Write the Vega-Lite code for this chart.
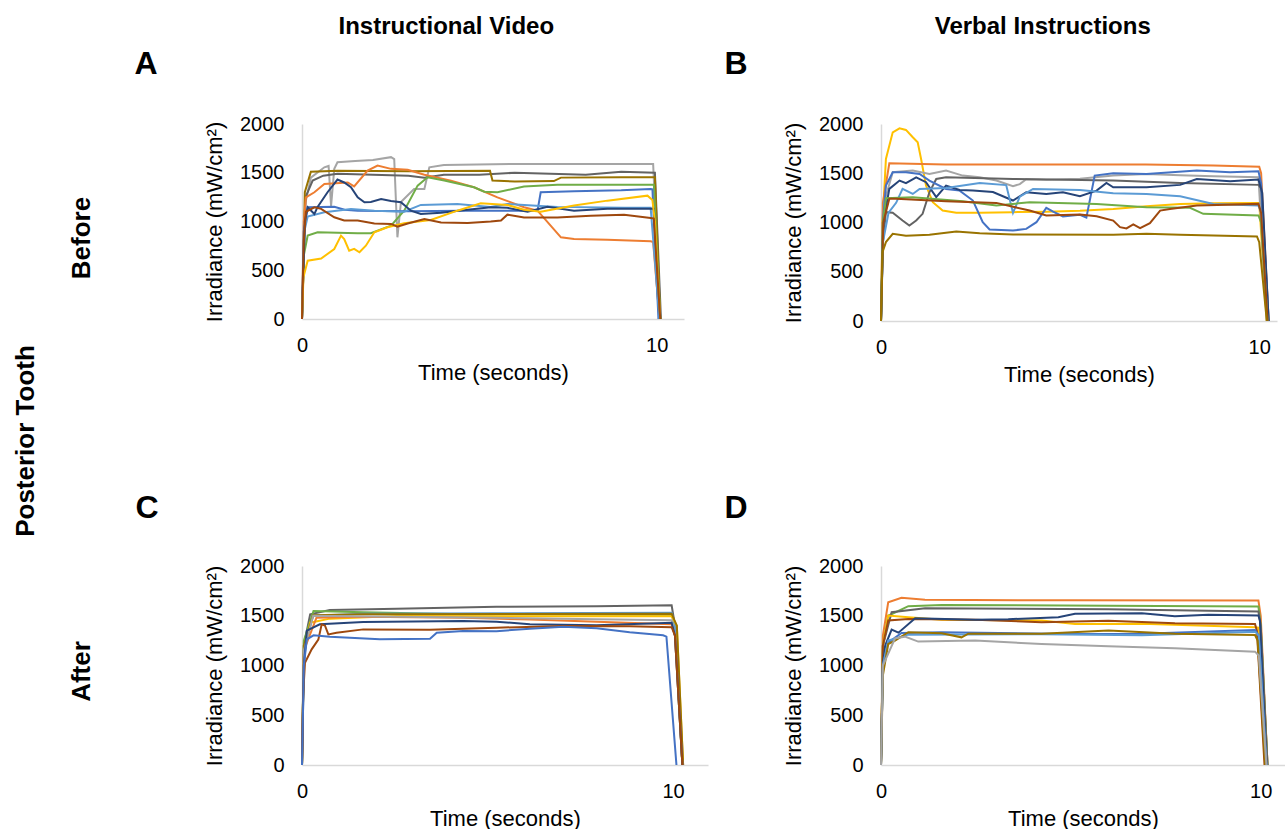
{
"$schema": "https://vega.github.io/schema/vega-lite/v6.json",
"background": "white",
"padding": {"left": 12, "top": 15, "right": 0, "bottom": 0},
"title": {"text": "Posterior Tooth", "orient": "left", "anchor": "middle", "fontSize": 26, "offset": 30, "dx": -19},
"data": {"values": [
{"p":"A","s":"g","t":0,"v":0},{"p":"A","s":"g","t":0.1,"v":1200},{"p":"A","s":"g","t":0.25,"v":1450},{"p":"A","s":"g","t":0.63,"v":1556},{"p":"A","s":"g","t":0.75,"v":1570},{"p":"A","s":"g","t":0.82,"v":1160},{"p":"A","s":"g","t":0.91,"v":1540},{"p":"A","s":"g","t":1.0,"v":1607},{"p":"A","s":"g","t":1.5,"v":1620},{"p":"A","s":"g","t":2.0,"v":1630},{"p":"A","s":"g","t":2.51,"v":1660},{"p":"A","s":"g","t":2.6,"v":1640},{"p":"A","s":"g","t":2.69,"v":838},{"p":"A","s":"g","t":2.79,"v":1200},{"p":"A","s":"g","t":3.16,"v":1334},{"p":"A","s":"g","t":3.45,"v":1334},{"p":"A","s":"g","t":3.59,"v":1556},{"p":"A","s":"g","t":4.0,"v":1580},{"p":"A","s":"g","t":6.0,"v":1590},{"p":"A","s":"g","t":8.0,"v":1590},{"p":"A","s":"g","t":9.9,"v":1590},{"p":"A","s":"g","t":10.1,"v":0},
{"p":"A","s":"dg","t":0,"v":0},{"p":"A","s":"dg","t":0.1,"v":1250},{"p":"A","s":"dg","t":0.3,"v":1420},{"p":"A","s":"dg","t":0.6,"v":1470},{"p":"A","s":"dg","t":1.0,"v":1490},{"p":"A","s":"dg","t":2.0,"v":1480},{"p":"A","s":"dg","t":3.0,"v":1470},{"p":"A","s":"dg","t":3.45,"v":1450},{"p":"A","s":"dg","t":4.0,"v":1480},{"p":"A","s":"dg","t":5.0,"v":1480},{"p":"A","s":"dg","t":6.0,"v":1500},{"p":"A","s":"dg","t":7.0,"v":1490},{"p":"A","s":"dg","t":8.0,"v":1480},{"p":"A","s":"dg","t":9.0,"v":1510},{"p":"A","s":"dg","t":9.95,"v":1500},{"p":"A","s":"dg","t":10.12,"v":0},
{"p":"A","s":"ol","t":0,"v":0},{"p":"A","s":"ol","t":0.08,"v":1300},{"p":"A","s":"ol","t":0.25,"v":1510},{"p":"A","s":"ol","t":1.0,"v":1520},{"p":"A","s":"ol","t":3.0,"v":1515},{"p":"A","s":"ol","t":5.3,"v":1520},{"p":"A","s":"ol","t":5.37,"v":1420},{"p":"A","s":"ol","t":6.0,"v":1410},{"p":"A","s":"ol","t":7.1,"v":1415},{"p":"A","s":"ol","t":7.3,"v":1450},{"p":"A","s":"ol","t":9.0,"v":1455},{"p":"A","s":"ol","t":9.95,"v":1455},{"p":"A","s":"ol","t":10.1,"v":0},
{"p":"A","s":"or","t":0,"v":0},{"p":"A","s":"or","t":0.05,"v":1000},{"p":"A","s":"or","t":0.11,"v":1248},{"p":"A","s":"or","t":0.35,"v":1300},{"p":"A","s":"or","t":0.63,"v":1385},{"p":"A","s":"or","t":1.29,"v":1400},{"p":"A","s":"or","t":1.47,"v":1360},{"p":"A","s":"or","t":1.85,"v":1522},{"p":"A","s":"or","t":2.13,"v":1573},{"p":"A","s":"or","t":2.51,"v":1540},{"p":"A","s":"or","t":2.98,"v":1530},{"p":"A","s":"or","t":3.45,"v":1480},{"p":"A","s":"or","t":4.2,"v":1419},{"p":"A","s":"or","t":4.85,"v":1351},{"p":"A","s":"or","t":5.51,"v":1248},{"p":"A","s":"or","t":6.26,"v":1146},{"p":"A","s":"or","t":6.64,"v":1111},{"p":"A","s":"or","t":7.01,"v":958},{"p":"A","s":"or","t":7.3,"v":838},{"p":"A","s":"or","t":7.67,"v":820},{"p":"A","s":"or","t":8.61,"v":814},{"p":"A","s":"or","t":9.83,"v":797},{"p":"A","s":"or","t":9.9,"v":790},{"p":"A","s":"or","t":10.08,"v":0},
{"p":"A","s":"gr","t":0,"v":0},{"p":"A","s":"gr","t":0.05,"v":650},{"p":"A","s":"gr","t":0.16,"v":855},{"p":"A","s":"gr","t":0.44,"v":889},{"p":"A","s":"gr","t":1.57,"v":879},{"p":"A","s":"gr","t":1.94,"v":880},{"p":"A","s":"gr","t":2.51,"v":958},{"p":"A","s":"gr","t":2.88,"v":1111},{"p":"A","s":"gr","t":3.26,"v":1368},{"p":"A","s":"gr","t":3.54,"v":1453},{"p":"A","s":"gr","t":4.01,"v":1420},{"p":"A","s":"gr","t":4.85,"v":1351},{"p":"A","s":"gr","t":5.14,"v":1306},{"p":"A","s":"gr","t":5.51,"v":1300},{"p":"A","s":"gr","t":6.26,"v":1358},{"p":"A","s":"gr","t":7.2,"v":1378},{"p":"A","s":"gr","t":9.92,"v":1378},{"p":"A","s":"gr","t":10.1,"v":0},
{"p":"A","s":"bl","t":0,"v":0},{"p":"A","s":"bl","t":0.05,"v":900},{"p":"A","s":"bl","t":0.16,"v":1146},{"p":"A","s":"bl","t":0.91,"v":1150},{"p":"A","s":"bl","t":1.2,"v":1120},{"p":"A","s":"bl","t":1.57,"v":1111},{"p":"A","s":"bl","t":3.0,"v":1105},{"p":"A","s":"bl","t":4.5,"v":1110},{"p":"A","s":"bl","t":6.64,"v":1111},{"p":"A","s":"bl","t":6.73,"v":1300},{"p":"A","s":"bl","t":7.67,"v":1310},{"p":"A","s":"bl","t":9.0,"v":1320},{"p":"A","s":"bl","t":9.83,"v":1334},{"p":"A","s":"bl","t":9.88,"v":1330},{"p":"A","s":"bl","t":10.05,"v":0},
{"p":"A","s":"lb","t":0,"v":0},{"p":"A","s":"lb","t":0.07,"v":906},{"p":"A","s":"lb","t":0.16,"v":1050},{"p":"A","s":"lb","t":0.63,"v":1094},{"p":"A","s":"lb","t":1.38,"v":1129},{"p":"A","s":"lb","t":2.04,"v":1110},{"p":"A","s":"lb","t":2.88,"v":1100},{"p":"A","s":"lb","t":3.35,"v":1170},{"p":"A","s":"lb","t":4.38,"v":1180},{"p":"A","s":"lb","t":5.32,"v":1150},{"p":"A","s":"lb","t":5.79,"v":1180},{"p":"A","s":"lb","t":6.73,"v":1160},{"p":"A","s":"lb","t":7.2,"v":1150},{"p":"A","s":"lb","t":9.08,"v":1140},{"p":"A","s":"lb","t":9.83,"v":1140},{"p":"A","s":"lb","t":10.08,"v":0},
{"p":"A","s":"db","t":0,"v":0},{"p":"A","s":"db","t":0.08,"v":1000},{"p":"A","s":"db","t":0.16,"v":1146},{"p":"A","s":"db","t":0.35,"v":1077},{"p":"A","s":"db","t":0.44,"v":1150},{"p":"A","s":"db","t":0.72,"v":1300},{"p":"A","s":"db","t":1.0,"v":1430},{"p":"A","s":"db","t":1.19,"v":1400},{"p":"A","s":"db","t":1.38,"v":1351},{"p":"A","s":"db","t":1.57,"v":1248},{"p":"A","s":"db","t":1.76,"v":1197},{"p":"A","s":"db","t":1.94,"v":1200},{"p":"A","s":"db","t":2.23,"v":1230},{"p":"A","s":"db","t":2.51,"v":1210},{"p":"A","s":"db","t":2.79,"v":1197},{"p":"A","s":"db","t":3.07,"v":1111},{"p":"A","s":"db","t":3.35,"v":1077},{"p":"A","s":"db","t":3.92,"v":1090},{"p":"A","s":"db","t":4.67,"v":1120},{"p":"A","s":"db","t":5.32,"v":1146},{"p":"A","s":"db","t":5.79,"v":1140},{"p":"A","s":"db","t":6.36,"v":1100},{"p":"A","s":"db","t":6.92,"v":1150},{"p":"A","s":"db","t":7.67,"v":1110},{"p":"A","s":"db","t":8.61,"v":1130},{"p":"A","s":"db","t":9.92,"v":1130},{"p":"A","s":"db","t":10.1,"v":0},
{"p":"A","s":"ye","t":0,"v":0},{"p":"A","s":"ye","t":0.04,"v":427},{"p":"A","s":"ye","t":0.16,"v":598},{"p":"A","s":"ye","t":0.54,"v":620},{"p":"A","s":"ye","t":0.91,"v":718},{"p":"A","s":"ye","t":1.1,"v":855},{"p":"A","s":"ye","t":1.19,"v":820},{"p":"A","s":"ye","t":1.33,"v":701},{"p":"A","s":"ye","t":1.47,"v":720},{"p":"A","s":"ye","t":1.62,"v":684},{"p":"A","s":"ye","t":1.8,"v":752},{"p":"A","s":"ye","t":2.04,"v":889},{"p":"A","s":"ye","t":2.41,"v":941},{"p":"A","s":"ye","t":2.88,"v":982},{"p":"A","s":"ye","t":3.63,"v":1016},{"p":"A","s":"ye","t":4.38,"v":1111},{"p":"A","s":"ye","t":5.04,"v":1187},{"p":"A","s":"ye","t":5.79,"v":1170},{"p":"A","s":"ye","t":6.26,"v":1120},{"p":"A","s":"ye","t":6.73,"v":1100},{"p":"A","s":"ye","t":7.67,"v":1163},{"p":"A","s":"ye","t":8.61,"v":1214},{"p":"A","s":"ye","t":9.74,"v":1265},{"p":"A","s":"ye","t":9.88,"v":1220},{"p":"A","s":"ye","t":9.95,"v":1000},{"p":"A","s":"ye","t":10.1,"v":0},
{"p":"A","s":"br","t":0,"v":0},{"p":"A","s":"br","t":0.05,"v":800},{"p":"A","s":"br","t":0.11,"v":1100},{"p":"A","s":"br","t":0.35,"v":1146},{"p":"A","s":"br","t":0.54,"v":1130},{"p":"A","s":"br","t":0.91,"v":1043},{"p":"A","s":"br","t":1.19,"v":1010},{"p":"A","s":"br","t":1.57,"v":1009},{"p":"A","s":"br","t":2.04,"v":980},{"p":"A","s":"br","t":2.51,"v":975},{"p":"A","s":"br","t":2.69,"v":947},{"p":"A","s":"br","t":2.98,"v":980},{"p":"A","s":"br","t":3.45,"v":1026},{"p":"A","s":"br","t":3.92,"v":990},{"p":"A","s":"br","t":4.67,"v":985},{"p":"A","s":"br","t":5.32,"v":1000},{"p":"A","s":"br","t":5.61,"v":1010},{"p":"A","s":"br","t":5.79,"v":1070},{"p":"A","s":"br","t":6.26,"v":1040},{"p":"A","s":"br","t":7.2,"v":1040},{"p":"A","s":"br","t":8.14,"v":1060},{"p":"A","s":"br","t":9.08,"v":1070},{"p":"A","s":"br","t":9.83,"v":1036},{"p":"A","s":"br","t":9.92,"v":1030},{"p":"A","s":"br","t":10.1,"v":0},

{"p":"B","s":"ye","t":0,"v":0},{"p":"B","s":"ye","t":0.04,"v":1000},{"p":"B","s":"ye","t":0.13,"v":1645},{"p":"B","s":"ye","t":0.31,"v":1915},{"p":"B","s":"ye","t":0.49,"v":1956},{"p":"B","s":"ye","t":0.66,"v":1940},{"p":"B","s":"ye","t":0.84,"v":1865},{"p":"B","s":"ye","t":0.97,"v":1814},{"p":"B","s":"ye","t":1.06,"v":1645},{"p":"B","s":"ye","t":1.19,"v":1375},{"p":"B","s":"ye","t":1.37,"v":1206},{"p":"B","s":"ye","t":1.63,"v":1121},{"p":"B","s":"ye","t":1.99,"v":1098},{"p":"B","s":"ye","t":2.61,"v":1098},{"p":"B","s":"ye","t":3.49,"v":1105},{"p":"B","s":"ye","t":4.37,"v":1110},{"p":"B","s":"ye","t":5.26,"v":1120},{"p":"B","s":"ye","t":6.14,"v":1138},{"p":"B","s":"ye","t":7.02,"v":1165},{"p":"B","s":"ye","t":7.91,"v":1189},{"p":"B","s":"ye","t":8.79,"v":1195},{"p":"B","s":"ye","t":9.94,"v":1199},{"p":"B","s":"ye","t":10.0,"v":1199},{"p":"B","s":"ye","t":10.2,"v":0},
{"p":"B","s":"or","t":0,"v":0},{"p":"B","s":"or","t":0.05,"v":1200},{"p":"B","s":"or","t":0.22,"v":1601},{"p":"B","s":"or","t":0.5,"v":1600},{"p":"B","s":"or","t":1.7,"v":1590},{"p":"B","s":"or","t":3.0,"v":1588},{"p":"B","s":"or","t":5.0,"v":1588},{"p":"B","s":"or","t":7.0,"v":1590},{"p":"B","s":"or","t":8.79,"v":1578},{"p":"B","s":"or","t":10.0,"v":1567},{"p":"B","s":"or","t":10.05,"v":1500},{"p":"B","s":"or","t":10.25,"v":0},
{"p":"B","s":"g","t":0,"v":0},{"p":"B","s":"g","t":0.08,"v":1200},{"p":"B","s":"g","t":0.31,"v":1510},{"p":"B","s":"g","t":0.84,"v":1527},{"p":"B","s":"g","t":1.28,"v":1493},{"p":"B","s":"g","t":1.72,"v":1527},{"p":"B","s":"g","t":2.16,"v":1476},{"p":"B","s":"g","t":2.61,"v":1459},{"p":"B","s":"g","t":3.05,"v":1426},{"p":"B","s":"g","t":3.49,"v":1368},{"p":"B","s":"g","t":3.67,"v":1390},{"p":"B","s":"g","t":3.84,"v":1440},{"p":"B","s":"g","t":4.37,"v":1435},{"p":"B","s":"g","t":5.26,"v":1445},{"p":"B","s":"g","t":6.14,"v":1476},{"p":"B","s":"g","t":7.02,"v":1493},{"p":"B","s":"g","t":7.91,"v":1480},{"p":"B","s":"g","t":8.79,"v":1470},{"p":"B","s":"g","t":9.98,"v":1459},{"p":"B","s":"g","t":10.2,"v":0},
{"p":"B","s":"dg","t":0,"v":0},{"p":"B","s":"dg","t":0.05,"v":800},{"p":"B","s":"dg","t":0.13,"v":1105},{"p":"B","s":"dg","t":0.31,"v":1100},{"p":"B","s":"dg","t":0.57,"v":1020},{"p":"B","s":"dg","t":0.75,"v":969},{"p":"B","s":"dg","t":0.93,"v":1020},{"p":"B","s":"dg","t":1.1,"v":1088},{"p":"B","s":"dg","t":1.28,"v":1307},{"p":"B","s":"dg","t":1.46,"v":1442},{"p":"B","s":"dg","t":1.72,"v":1459},{"p":"B","s":"dg","t":3.49,"v":1442},{"p":"B","s":"dg","t":6.14,"v":1426},{"p":"B","s":"dg","t":7.91,"v":1402},{"p":"B","s":"dg","t":9.98,"v":1382},{"p":"B","s":"dg","t":10.05,"v":1350},{"p":"B","s":"dg","t":10.22,"v":0},
{"p":"B","s":"bl","t":0,"v":0},{"p":"B","s":"bl","t":0.05,"v":1000},{"p":"B","s":"bl","t":0.13,"v":1375},{"p":"B","s":"bl","t":0.31,"v":1510},{"p":"B","s":"bl","t":0.66,"v":1510},{"p":"B","s":"bl","t":1.02,"v":1493},{"p":"B","s":"bl","t":1.28,"v":1426},{"p":"B","s":"bl","t":1.72,"v":1341},{"p":"B","s":"bl","t":2.08,"v":1324},{"p":"B","s":"bl","t":2.43,"v":1223},{"p":"B","s":"bl","t":2.69,"v":1003},{"p":"B","s":"bl","t":2.87,"v":929},{"p":"B","s":"bl","t":3.49,"v":919},{"p":"B","s":"bl","t":3.84,"v":935},{"p":"B","s":"bl","t":4.11,"v":1003},{"p":"B","s":"bl","t":4.37,"v":1149},{"p":"B","s":"bl","t":4.55,"v":1110},{"p":"B","s":"bl","t":4.81,"v":1061},{"p":"B","s":"bl","t":5.26,"v":1078},{"p":"B","s":"bl","t":5.43,"v":1050},{"p":"B","s":"bl","t":5.52,"v":1223},{"p":"B","s":"bl","t":5.65,"v":1476},{"p":"B","s":"bl","t":6.14,"v":1500},{"p":"B","s":"bl","t":7.02,"v":1493},{"p":"B","s":"bl","t":8.35,"v":1527},{"p":"B","s":"bl","t":9.23,"v":1510},{"p":"B","s":"bl","t":9.98,"v":1520},{"p":"B","s":"bl","t":10.05,"v":1400},{"p":"B","s":"bl","t":10.25,"v":0},
{"p":"B","s":"db","t":0,"v":0},{"p":"B","s":"db","t":0.06,"v":1000},{"p":"B","s":"db","t":0.22,"v":1341},{"p":"B","s":"db","t":0.49,"v":1426},{"p":"B","s":"db","t":0.66,"v":1400},{"p":"B","s":"db","t":0.93,"v":1459},{"p":"B","s":"db","t":1.19,"v":1409},{"p":"B","s":"db","t":1.46,"v":1257},{"p":"B","s":"db","t":1.72,"v":1375},{"p":"B","s":"db","t":2.08,"v":1330},{"p":"B","s":"db","t":2.43,"v":1324},{"p":"B","s":"db","t":2.96,"v":1310},{"p":"B","s":"db","t":3.49,"v":1223},{"p":"B","s":"db","t":3.84,"v":1307},{"p":"B","s":"db","t":4.37,"v":1290},{"p":"B","s":"db","t":4.81,"v":1307},{"p":"B","s":"db","t":5.26,"v":1267},{"p":"B","s":"db","t":5.7,"v":1324},{"p":"B","s":"db","t":5.96,"v":1402},{"p":"B","s":"db","t":6.14,"v":1358},{"p":"B","s":"db","t":7.02,"v":1358},{"p":"B","s":"db","t":7.91,"v":1382},{"p":"B","s":"db","t":8.35,"v":1442},{"p":"B","s":"db","t":9.23,"v":1420},{"p":"B","s":"db","t":9.98,"v":1436},{"p":"B","s":"db","t":10.08,"v":1300},{"p":"B","s":"db","t":10.25,"v":0},
{"p":"B","s":"lb","t":0,"v":0},{"p":"B","s":"lb","t":0.05,"v":800},{"p":"B","s":"lb","t":0.2,"v":1100},{"p":"B","s":"lb","t":0.4,"v":1200},{"p":"B","s":"lb","t":0.57,"v":1341},{"p":"B","s":"lb","t":0.84,"v":1290},{"p":"B","s":"lb","t":1.02,"v":1341},{"p":"B","s":"lb","t":1.72,"v":1351},{"p":"B","s":"lb","t":2.61,"v":1402},{"p":"B","s":"lb","t":3.31,"v":1380},{"p":"B","s":"lb","t":3.49,"v":1098},{"p":"B","s":"lb","t":3.67,"v":1262},{"p":"B","s":"lb","t":4.02,"v":1341},{"p":"B","s":"lb","t":5.26,"v":1330},{"p":"B","s":"lb","t":6.14,"v":1297},{"p":"B","s":"lb","t":7.02,"v":1290},{"p":"B","s":"lb","t":7.91,"v":1267},{"p":"B","s":"lb","t":8.79,"v":1189},{"p":"B","s":"lb","t":9.98,"v":1172},{"p":"B","s":"lb","t":10.05,"v":1100},{"p":"B","s":"lb","t":10.22,"v":0},
{"p":"B","s":"gr","t":0,"v":0},{"p":"B","s":"gr","t":0.05,"v":1000},{"p":"B","s":"gr","t":0.13,"v":1246},{"p":"B","s":"gr","t":0.84,"v":1257},{"p":"B","s":"gr","t":2.16,"v":1216},{"p":"B","s":"gr","t":3.05,"v":1172},{"p":"B","s":"gr","t":3.93,"v":1206},{"p":"B","s":"gr","t":5.7,"v":1189},{"p":"B","s":"gr","t":7.02,"v":1155},{"p":"B","s":"gr","t":8.17,"v":1149},{"p":"B","s":"gr","t":8.52,"v":1088},{"p":"B","s":"gr","t":9.98,"v":1071},{"p":"B","s":"gr","t":10.05,"v":1000},{"p":"B","s":"gr","t":10.22,"v":0},
{"p":"B","s":"br","t":0,"v":0},{"p":"B","s":"br","t":0.06,"v":1000},{"p":"B","s":"br","t":0.22,"v":1240},{"p":"B","s":"br","t":0.4,"v":1240},{"p":"B","s":"br","t":1.72,"v":1216},{"p":"B","s":"br","t":3.05,"v":1199},{"p":"B","s":"br","t":3.93,"v":1121},{"p":"B","s":"br","t":4.37,"v":1071},{"p":"B","s":"br","t":5.26,"v":1081},{"p":"B","s":"br","t":5.7,"v":1064},{"p":"B","s":"br","t":6.14,"v":1020},{"p":"B","s":"br","t":6.32,"v":953},{"p":"B","s":"br","t":6.49,"v":940},{"p":"B","s":"br","t":6.67,"v":980},{"p":"B","s":"br","t":6.85,"v":942},{"p":"B","s":"br","t":7.11,"v":993},{"p":"B","s":"br","t":7.38,"v":1121},{"p":"B","s":"br","t":7.64,"v":1138},{"p":"B","s":"br","t":8.35,"v":1172},{"p":"B","s":"br","t":9.98,"v":1189},{"p":"B","s":"br","t":10.05,"v":1100},{"p":"B","s":"br","t":10.22,"v":0},
{"p":"B","s":"ol","t":0,"v":0},{"p":"B","s":"ol","t":0.04,"v":699},{"p":"B","s":"ol","t":0.13,"v":801},{"p":"B","s":"ol","t":0.31,"v":885},{"p":"B","s":"ol","t":0.66,"v":865},{"p":"B","s":"ol","t":1.28,"v":875},{"p":"B","s":"ol","t":1.99,"v":909},{"p":"B","s":"ol","t":2.61,"v":890},{"p":"B","s":"ol","t":3.49,"v":878},{"p":"B","s":"ol","t":6.14,"v":875},{"p":"B","s":"ol","t":7.02,"v":885},{"p":"B","s":"ol","t":7.91,"v":875},{"p":"B","s":"ol","t":8.79,"v":868},{"p":"B","s":"ol","t":9.94,"v":858},{"p":"B","s":"ol","t":10.0,"v":800},{"p":"B","s":"ol","t":10.2,"v":0},

{"p":"C","s":"dg","t":0,"v":0},{"p":"C","s":"dg","t":0.05,"v":1200},{"p":"C","s":"dg","t":0.22,"v":1514},{"p":"C","s":"dg","t":0.75,"v":1558},{"p":"C","s":"dg","t":2.55,"v":1570},{"p":"C","s":"dg","t":5.24,"v":1591},{"p":"C","s":"dg","t":7.94,"v":1595},{"p":"C","s":"dg","t":9.96,"v":1605},{"p":"C","s":"dg","t":10.05,"v":1400},{"p":"C","s":"dg","t":10.25,"v":0},
{"p":"C","s":"gr","t":0,"v":0},{"p":"C","s":"gr","t":0.05,"v":1250},{"p":"C","s":"gr","t":0.31,"v":1548},{"p":"C","s":"gr","t":1.65,"v":1535},{"p":"C","s":"gr","t":4.34,"v":1515},{"p":"C","s":"gr","t":9.96,"v":1510},{"p":"C","s":"gr","t":10.05,"v":1400},{"p":"C","s":"gr","t":10.25,"v":0},
{"p":"C","s":"lb","t":0,"v":0},{"p":"C","s":"lb","t":0.05,"v":1150},{"p":"C","s":"lb","t":0.3,"v":1500},{"p":"C","s":"lb","t":1.65,"v":1520},{"p":"C","s":"lb","t":5.24,"v":1525},{"p":"C","s":"lb","t":9.96,"v":1530},{"p":"C","s":"lb","t":10.05,"v":1400},{"p":"C","s":"lb","t":10.25,"v":0},
{"p":"C","s":"ye","t":0,"v":0},{"p":"C","s":"ye","t":0.05,"v":1100},{"p":"C","s":"ye","t":0.22,"v":1430},{"p":"C","s":"ye","t":0.75,"v":1471},{"p":"C","s":"ye","t":2.55,"v":1497},{"p":"C","s":"ye","t":9.96,"v":1495},{"p":"C","s":"ye","t":10.1,"v":1400},{"p":"C","s":"ye","t":10.27,"v":0},
{"p":"C","s":"ol","t":0,"v":0},{"p":"C","s":"ol","t":0.05,"v":1200},{"p":"C","s":"ol","t":0.3,"v":1505},{"p":"C","s":"ol","t":1.65,"v":1515},{"p":"C","s":"ol","t":9.96,"v":1521},{"p":"C","s":"ol","t":10.1,"v":1400},{"p":"C","s":"ol","t":10.27,"v":0},
{"p":"C","s":"or","t":0,"v":0},{"p":"C","s":"or","t":0.05,"v":1150},{"p":"C","s":"or","t":0.39,"v":1480},{"p":"C","s":"or","t":1.65,"v":1490},{"p":"C","s":"or","t":4.34,"v":1480},{"p":"C","s":"or","t":6.14,"v":1462},{"p":"C","s":"or","t":7.94,"v":1440},{"p":"C","s":"or","t":9.96,"v":1414},{"p":"C","s":"or","t":10.05,"v":1300},{"p":"C","s":"or","t":10.25,"v":0},
{"p":"C","s":"g","t":0,"v":0},{"p":"C","s":"g","t":0.05,"v":1150},{"p":"C","s":"g","t":0.3,"v":1500},{"p":"C","s":"g","t":2.55,"v":1490},{"p":"C","s":"g","t":5.24,"v":1480},{"p":"C","s":"g","t":7.94,"v":1465},{"p":"C","s":"g","t":9.96,"v":1455},{"p":"C","s":"g","t":10.05,"v":1300},{"p":"C","s":"g","t":10.25,"v":0},
{"p":"C","s":"db","t":0,"v":0},{"p":"C","s":"db","t":0.05,"v":1000},{"p":"C","s":"db","t":0.13,"v":1350},{"p":"C","s":"db","t":0.48,"v":1414},{"p":"C","s":"db","t":1.65,"v":1437},{"p":"C","s":"db","t":4.34,"v":1447},{"p":"C","s":"db","t":5.24,"v":1440},{"p":"C","s":"db","t":6.14,"v":1414},{"p":"C","s":"db","t":7.94,"v":1405},{"p":"C","s":"db","t":9.96,"v":1430},{"p":"C","s":"db","t":10.05,"v":1300},{"p":"C","s":"db","t":10.25,"v":0},
{"p":"C","s":"br","t":0,"v":0},{"p":"C","s":"br","t":0.03,"v":700},{"p":"C","s":"br","t":0.08,"v":1028},{"p":"C","s":"br","t":0.26,"v":1162},{"p":"C","s":"br","t":0.44,"v":1260},{"p":"C","s":"br","t":0.53,"v":1414},{"p":"C","s":"br","t":0.62,"v":1400},{"p":"C","s":"br","t":0.71,"v":1313},{"p":"C","s":"br","t":0.93,"v":1330},{"p":"C","s":"br","t":1.65,"v":1363},{"p":"C","s":"br","t":3.45,"v":1360},{"p":"C","s":"br","t":5.24,"v":1380},{"p":"C","s":"br","t":7.04,"v":1397},{"p":"C","s":"br","t":8.83,"v":1395},{"p":"C","s":"br","t":9.96,"v":1385},{"p":"C","s":"br","t":10.05,"v":1300},{"p":"C","s":"br","t":10.25,"v":0},
{"p":"C","s":"bl","t":0,"v":0},{"p":"C","s":"bl","t":0.05,"v":1000},{"p":"C","s":"bl","t":0.13,"v":1263},{"p":"C","s":"bl","t":0.31,"v":1303},{"p":"C","s":"bl","t":0.75,"v":1290},{"p":"C","s":"bl","t":2.1,"v":1263},{"p":"C","s":"bl","t":3.45,"v":1270},{"p":"C","s":"bl","t":3.63,"v":1330},{"p":"C","s":"bl","t":4.34,"v":1347},{"p":"C","s":"bl","t":5.24,"v":1345},{"p":"C","s":"bl","t":6.14,"v":1370},{"p":"C","s":"bl","t":7.04,"v":1390},{"p":"C","s":"bl","t":7.94,"v":1375},{"p":"C","s":"bl","t":8.83,"v":1335},{"p":"C","s":"bl","t":9.73,"v":1303},{"p":"C","s":"bl","t":9.82,"v":1290},{"p":"C","s":"bl","t":10.09,"v":0},

{"p":"D","s":"or","t":0,"v":0},{"p":"D","s":"or","t":0.05,"v":1300},{"p":"D","s":"or","t":0.19,"v":1636},{"p":"D","s":"or","t":0.54,"v":1680},{"p":"D","s":"or","t":1.16,"v":1660},{"p":"D","s":"or","t":5.0,"v":1655},{"p":"D","s":"or","t":9.94,"v":1653},{"p":"D","s":"or","t":10.0,"v":1500},{"p":"D","s":"or","t":10.18,"v":0},
{"p":"D","s":"gr","t":0,"v":0},{"p":"D","s":"gr","t":0.05,"v":1200},{"p":"D","s":"gr","t":0.19,"v":1500},{"p":"D","s":"gr","t":0.72,"v":1596},{"p":"D","s":"gr","t":1.6,"v":1609},{"p":"D","s":"gr","t":5.99,"v":1600},{"p":"D","s":"gr","t":9.94,"v":1593},{"p":"D","s":"gr","t":10.0,"v":1400},{"p":"D","s":"gr","t":10.18,"v":0},
{"p":"D","s":"dg","t":0,"v":0},{"p":"D","s":"dg","t":0.05,"v":1200},{"p":"D","s":"dg","t":0.28,"v":1535},{"p":"D","s":"dg","t":1.16,"v":1576},{"p":"D","s":"dg","t":5.99,"v":1565},{"p":"D","s":"dg","t":9.94,"v":1542},{"p":"D","s":"dg","t":10.0,"v":1400},{"p":"D","s":"dg","t":10.18,"v":0},
{"p":"D","s":"ye","t":0,"v":0},{"p":"D","s":"ye","t":0.05,"v":1200},{"p":"D","s":"ye","t":0.19,"v":1502},{"p":"D","s":"ye","t":0.72,"v":1485},{"p":"D","s":"ye","t":1.6,"v":1460},{"p":"D","s":"ye","t":4.23,"v":1452},{"p":"D","s":"ye","t":5.11,"v":1418},{"p":"D","s":"ye","t":6.87,"v":1420},{"p":"D","s":"ye","t":9.85,"v":1384},{"p":"D","s":"ye","t":9.94,"v":1380},{"p":"D","s":"ye","t":10.12,"v":0},
{"p":"D","s":"br","t":0,"v":0},{"p":"D","s":"br","t":0.05,"v":1200},{"p":"D","s":"br","t":0.19,"v":1452},{"p":"D","s":"br","t":0.72,"v":1468},{"p":"D","s":"br","t":2.48,"v":1460},{"p":"D","s":"br","t":4.23,"v":1435},{"p":"D","s":"br","t":5.99,"v":1450},{"p":"D","s":"br","t":7.74,"v":1425},{"p":"D","s":"br","t":9.85,"v":1418},{"p":"D","s":"br","t":9.9,"v":1350},{"p":"D","s":"br","t":10.1,"v":0},
{"p":"D","s":"db","t":0,"v":0},{"p":"D","s":"db","t":0.05,"v":1000},{"p":"D","s":"db","t":0.11,"v":1200},{"p":"D","s":"db","t":0.28,"v":1361},{"p":"D","s":"db","t":0.46,"v":1330},{"p":"D","s":"db","t":0.9,"v":1475},{"p":"D","s":"db","t":2.48,"v":1460},{"p":"D","s":"db","t":3.35,"v":1465},{"p":"D","s":"db","t":4.67,"v":1485},{"p":"D","s":"db","t":5.11,"v":1519},{"p":"D","s":"db","t":6.87,"v":1525},{"p":"D","s":"db","t":7.74,"v":1495},{"p":"D","s":"db","t":8.62,"v":1509},{"p":"D","s":"db","t":9.94,"v":1502},{"p":"D","s":"db","t":9.98,"v":1450},{"p":"D","s":"db","t":10.15,"v":0},
{"p":"D","s":"bl","t":0,"v":0},{"p":"D","s":"bl","t":0.05,"v":1000},{"p":"D","s":"bl","t":0.19,"v":1230},{"p":"D","s":"bl","t":0.54,"v":1327},{"p":"D","s":"bl","t":1.6,"v":1334},{"p":"D","s":"bl","t":5.11,"v":1317},{"p":"D","s":"bl","t":6.87,"v":1320},{"p":"D","s":"bl","t":9.85,"v":1357},{"p":"D","s":"bl","t":9.95,"v":1300},{"p":"D","s":"bl","t":10.15,"v":0},
{"p":"D","s":"lb","t":0,"v":0},{"p":"D","s":"lb","t":0.05,"v":1000},{"p":"D","s":"lb","t":0.19,"v":1250},{"p":"D","s":"lb","t":0.72,"v":1310},{"p":"D","s":"lb","t":4.23,"v":1315},{"p":"D","s":"lb","t":6.87,"v":1305},{"p":"D","s":"lb","t":9.85,"v":1340},{"p":"D","s":"lb","t":9.95,"v":1300},{"p":"D","s":"lb","t":10.15,"v":0},
{"p":"D","s":"ol","t":0,"v":0},{"p":"D","s":"ol","t":0.05,"v":900},{"p":"D","s":"ol","t":0.19,"v":1216},{"p":"D","s":"ol","t":0.37,"v":1250},{"p":"D","s":"ol","t":0.72,"v":1334},{"p":"D","s":"ol","t":1.6,"v":1325},{"p":"D","s":"ol","t":2.12,"v":1283},{"p":"D","s":"ol","t":2.3,"v":1320},{"p":"D","s":"ol","t":4.23,"v":1320},{"p":"D","s":"ol","t":5.99,"v":1351},{"p":"D","s":"ol","t":7.74,"v":1320},{"p":"D","s":"ol","t":9.85,"v":1307},{"p":"D","s":"ol","t":9.92,"v":1250},{"p":"D","s":"ol","t":10.12,"v":0},
{"p":"D","s":"g","t":0,"v":0},{"p":"D","s":"g","t":0.05,"v":1000},{"p":"D","s":"g","t":0.37,"v":1273},{"p":"D","s":"g","t":0.63,"v":1290},{"p":"D","s":"g","t":0.98,"v":1240},{"p":"D","s":"g","t":2.48,"v":1250},{"p":"D","s":"g","t":4.23,"v":1216},{"p":"D","s":"g","t":5.99,"v":1193},{"p":"D","s":"g","t":7.74,"v":1173},{"p":"D","s":"g","t":9.85,"v":1139},{"p":"D","s":"g","t":9.95,"v":1100},{"p":"D","s":"g","t":10.15,"v":0}
]},
"spacing": 107,
"vconcat": [
 {"title": {"text": "Before", "orient": "left", "anchor": "middle", "fontSize": 26, "offset": 40, "dx": -38},
  "spacing": 40,
  "hconcat": [
   {"title": {"text": "Instructional Video", "fontSize": 24, "offset": 9, "dx": 37},
    "vconcat": [
     {"width": 382, "height": 195,
      "title": {"text": "A", "anchor": "start", "fontSize": 32, "offset": 33, "dx": -69},
      "transform": [{"filter": "datum.p === 'A'"}],
      "mark": {"type": "line", "strokeWidth": 2},
      "encoding": {
       "x": {"field": "t", "type": "quantitative", "scale": {"domain": [0, 10.77], "nice": false}, "axis": {"title": "Time (seconds)", "values": [0, 10]}},
       "y": {"field": "v", "type": "quantitative", "scale": {"domain": [0, 2000], "nice": false}, "axis": {"title": "Irradiance (mW/cm²)", "format": "d", "values": [0, 500, 1000, 1500, 2000]}},
       "color": {"field": "s", "type": "nominal", "scale": {"domain": ["bl","or","g","ye","lb","gr","db","br","dg","ol"], "range": ["#4472C4","#ED7D31","#A5A5A5","#FFC000","#5B9BD5","#70AD47","#264478","#9E480E","#636363","#997300"]}, "legend": null}
      }}
    ]},
   {"title": {"text": "Verbal Instructions", "fontSize": 24, "offset": 9, "dx": 42},
    "vconcat": [
     {"width": 396, "height": 197,
      "title": {"text": "B", "anchor": "start", "fontSize": 32, "offset": 33, "dx": -58},
      "transform": [{"filter": "datum.p === 'B'"}],
      "mark": {"type": "line", "strokeWidth": 2},
      "encoding": {
       "x": {"field": "t", "type": "quantitative", "scale": {"domain": [0, 10.47], "nice": false}, "axis": {"title": "Time (seconds)", "values": [0, 10]}},
       "y": {"field": "v", "type": "quantitative", "scale": {"domain": [0, 2000], "nice": false}, "axis": {"title": "Irradiance (mW/cm²)", "format": "d", "values": [0, 500, 1000, 1500, 2000]}},
       "color": {"field": "s", "type": "nominal", "scale": {"domain": ["bl","or","g","ye","lb","gr","db","br","dg","ol"], "range": ["#4472C4","#ED7D31","#A5A5A5","#FFC000","#5B9BD5","#70AD47","#264478","#9E480E","#636363","#997300"]}, "legend": null}
      }}
    ]}
  ]},
 {"title": {"text": "After", "orient": "left", "anchor": "middle", "fontSize": 26, "offset": 41, "dx": -11},
  "spacing": 16,
  "hconcat": [
   {"width": 406, "height": 199,
    "title": {"text": "C", "anchor": "start", "fontSize": 32, "offset": 31, "dx": -68},
    "transform": [{"filter": "datum.p === 'C'"}],
    "mark": {"type": "line", "strokeWidth": 2},
    "encoding": {
     "x": {"field": "t", "type": "quantitative", "scale": {"domain": [0, 10.94], "nice": false}, "axis": {"title": "Time (seconds)", "values": [0, 10]}},
     "y": {"field": "v", "type": "quantitative", "scale": {"domain": [0, 2000], "nice": false}, "axis": {"title": "Irradiance (mW/cm²)", "format": "d", "values": [0, 500, 1000, 1500, 2000]}},
     "color": {"field": "s", "type": "nominal", "scale": {"domain": ["bl","or","g","ye","lb","gr","db","br","dg","ol"], "range": ["#4472C4","#ED7D31","#A5A5A5","#FFC000","#5B9BD5","#70AD47","#264478","#9E480E","#636363","#997300"]}, "legend": null}
    }},
   {"width": 404, "height": 199,
    "title": {"text": "D", "anchor": "start", "fontSize": 32, "offset": 31, "dx": -58},
    "transform": [{"filter": "datum.p === 'D'"}],
    "mark": {"type": "line", "strokeWidth": 2},
    "encoding": {
     "x": {"field": "t", "type": "quantitative", "scale": {"domain": [0, 10.64], "nice": false}, "axis": {"title": "Time (seconds)", "values": [0, 10]}},
     "y": {"field": "v", "type": "quantitative", "scale": {"domain": [0, 2000], "nice": false}, "axis": {"title": "Irradiance (mW/cm²)", "format": "d", "values": [0, 500, 1000, 1500, 2000]}},
     "color": {"field": "s", "type": "nominal", "scale": {"domain": ["bl","or","g","ye","lb","gr","db","br","dg","ol"], "range": ["#4472C4","#ED7D31","#A5A5A5","#FFC000","#5B9BD5","#70AD47","#264478","#9E480E","#636363","#997300"]}, "legend": null}
    }}
  ]}
],
"config": {
 "font": "Liberation Sans",
 "view": {"stroke": null},
 "title": {"font": "Liberation Sans", "fontWeight": "bold", "color": "#000000", "anchor": "middle"},
 "axis": {"grid": false, "ticks": false, "domainColor": "#D9D9D9", "domainWidth": 1.5, "labelFont": "Liberation Sans", "labelFontSize": 20, "labelColor": "#000000", "titleFont": "Liberation Sans", "titleFontSize": 22, "titleFontWeight": "normal", "titleColor": "#000000", "labelFlush": false, "labelOverlap": false},
 "axisX": {"labelPadding": 16, "titlePadding": 7},
 "axisY": {"labelPadding": 18, "titlePadding": 13},
 "line": {"strokeWidth": 2}
}
}
